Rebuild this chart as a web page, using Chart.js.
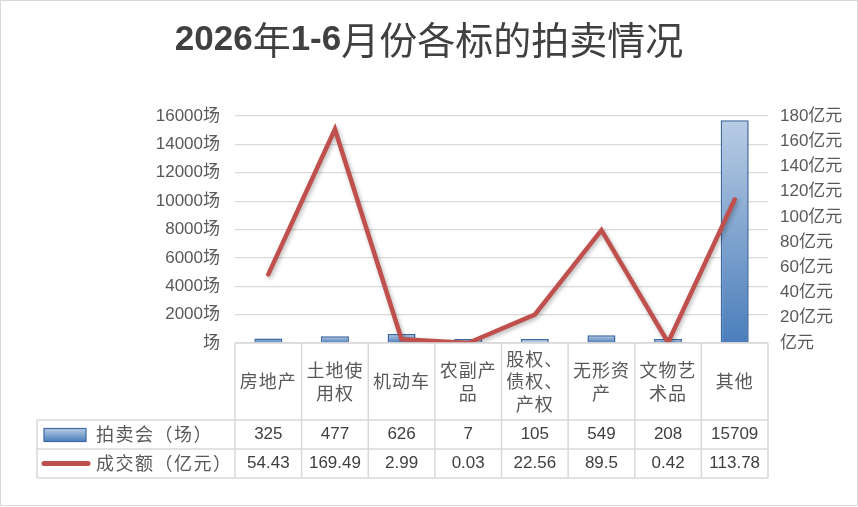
<!DOCTYPE html>
<html>
<head>
<meta charset="utf-8">
<script src="https://cdn.jsdelivr.net/npm/chart.js@4.4.1/dist/chart.umd.min.js"></script>
<style>
html,body{margin:0;padding:0;background:#fff}
#wrap{width:858px;height:507px;position:relative}
</style>
</head>
<body>
<div id="wrap"><canvas id="c" width="858" height="507"></canvas></div>
<script>
// data
var categories = ['房地产', '土地使用权', '机动车', '农副产品', '股权、债权、产权', '无形资产', '文物艺术品', '其他'];
var auctionCounts = [325, 477, 626, 7, 105, 549, 208, 15709];
var dealAmounts = [54.43, 169.49, 2.99, 0.03, 22.56, 89.5, 0.42, 113.78];
var countLabel = '拍卖会（场）';
var amountLabel = '成交额（亿元）';
var chartTitle = '2026年1-6月份各标的拍卖情况';
var countAxis = {max: 16000, step: 2000, unit: '场'};
var amountAxis = {max: 180, step: 20, unit: '亿元'};

var FONT = "'Liberation Sans','Noto Sans CJK SC',sans-serif";
var CJK = "'Noto Sans CJK SC','Liberation Sans',sans-serif";

function barGradient(ctx, yTop, yBottom) {
    var g = ctx.createLinearGradient(0, yTop, 0, yBottom);
    g.addColorStop(0, '#b9cce4');
    g.addColorStop(1, '#4a7ebb');
    return g;
}

// three chars per line, like the wrapped labels in the table
function wrap(s) {
    var out = [];
    for (var i = 0; i < s.length; i += 3) out.push(s.slice(i, i + 3));
    return out;
}

// title: latin bits bold, chinese regular
function drawTitle(ctx, text, cx, cy) {
    var runs = text.match(/[\x00-\x7f]+|[^\x00-\x7f]+/g);
    var fonts = runs.map(function (r) {
        return /^[\x00-\x7f]/.test(r) ? 'bold 35px ' + FONT : '38px ' + CJK;
    });
    var total = 0;
    runs.forEach(function (r, i) { ctx.font = fonts[i]; total += ctx.measureText(r).width; });
    var x = cx - total / 2;
    ctx.fillStyle = '#404040';
    ctx.textAlign = 'left';
    ctx.textBaseline = 'middle';
    runs.forEach(function (r, i) {
        ctx.font = fonts[i];
        ctx.fillText(r, x, cy);
        x += ctx.measureText(r).width;
    });
}

var lineShadow = {
    id: 'lineShadow',
    beforeDatasetDraw: function (chart, args) {
        var ctx = chart.ctx;
        ctx.save();
        if (args.meta.type === 'line') {
            ctx.shadowColor = 'rgba(0,0,0,0.28)';
            ctx.shadowBlur = 4;
            ctx.shadowOffsetX = 1.5;
            ctx.shadowOffsetY = 2;
        } else {
            ctx.shadowColor = 'rgba(0,0,0,0.15)';
            ctx.shadowBlur = 3;
            ctx.shadowOffsetX = 1;
            ctx.shadowOffsetY = 1;
        }
    },
    afterDatasetDraw: function (chart) {
        chart.ctx.restore();
    }
};

// data table under the axis
var dataTable = {
    id: 'dataTable',
    beforeDraw: function (chart) {
        var ctx = chart.ctx;
        ctx.save();
        ctx.fillStyle = '#fff';
        ctx.fillRect(0, 0, chart.width, chart.height);
        drawTitle(ctx, chartTitle, 429, 40);
        ctx.restore();
    },
    afterDraw: function (chart) {
        var ctx = chart.ctx, x = chart.scales.x, area = chart.chartArea;
        var half = (x.getPixelForValue(1) - x.getPixelForValue(0)) / 2;
        var top = area.bottom, r1 = top + 77, r2 = r1 + 29, r3 = r2 + 29;
        var tableLeft = 37;
        ctx.save();
        ctx.strokeStyle = '#d9d9d9';
        ctx.lineWidth = 1.5;
        ctx.beginPath();
        ctx.moveTo(area.left, top); ctx.lineTo(area.right, top);
        [r1, r2, r3].forEach(function (y) { ctx.moveTo(tableLeft, y); ctx.lineTo(area.right, y); });
        for (var i = 0; i <= categories.length; i++) {
            var xb = i < categories.length ? x.getPixelForValue(i) - half : area.right;
            ctx.moveTo(xb, top); ctx.lineTo(xb, r3);
        }
        ctx.moveTo(tableLeft, r1); ctx.lineTo(tableLeft, r3);
        ctx.stroke();

        ctx.textAlign = 'center';
        ctx.textBaseline = 'middle';
        var headMid = (top + r1) / 2;
        categories.forEach(function (c, i) {
            var cx = x.getPixelForValue(i);
            var lines = wrap(c);
            ctx.font = '18px ' + CJK;
            ctx.letterSpacing = '1px';
            ctx.fillStyle = '#595959';
            lines.forEach(function (l, k) {
                ctx.fillText(l, cx, headMid + (k - (lines.length - 1) / 2) * 22.5);
            });
            ctx.letterSpacing = '0px';
            ctx.font = '17px ' + FONT;
            ctx.fillStyle = '#404040';
            ctx.fillText(String(auctionCounts[i]), cx, (r1 + r2) / 2);
            ctx.fillText(String(dealAmounts[i]), cx, (r2 + r3) / 2);
        });

        // legend keys
        var m1 = (r1 + r2) / 2, m2 = (r2 + r3) / 2;
        ctx.fillStyle = barGradient(ctx, m1 - 6, m1 + 7);
        ctx.fillRect(44, m1 - 6, 42, 13);
        ctx.strokeStyle = '#3d6aa6';
        ctx.lineWidth = 1.2;
        ctx.strokeRect(44, m1 - 6, 42, 13);
        ctx.strokeStyle = '#c0504d';
        ctx.lineWidth = 5;
        ctx.lineCap = 'round';
        ctx.beginPath(); ctx.moveTo(44, m2); ctx.lineTo(88, m2); ctx.stroke();
        ctx.textAlign = 'left';
        ctx.font = '18px ' + CJK;
        ctx.letterSpacing = '1.5px';
        ctx.fillStyle = '#595959';
        ctx.fillText(countLabel, 96, m1);
        ctx.fillText(amountLabel, 96, m2);
        ctx.letterSpacing = '0px';

        // outer frame
        ctx.strokeStyle = '#d9d9d9';
        ctx.lineWidth = 1;
        ctx.strokeRect(0.5, 0.5, chart.width - 1, chart.height - 2);
        ctx.restore();
    }
};

var ctx = document.getElementById('c').getContext('2d');
var myChart = new Chart(ctx, {
    data: {
        labels: categories,
        datasets: [{
            type: 'line',
            label: amountLabel,
            data: dealAmounts,
            yAxisID: 'y1',
            borderColor: '#c0504d',
            borderWidth: 4.5,
            borderCapStyle: 'round',
            pointRadius: 0,
            tension: 0,
            order: 0
        }, {
            type: 'bar',
            label: countLabel,
            data: auctionCounts,
            yAxisID: 'y',
            backgroundColor: function (c) {
                var ch = c.chart;
                if (!ch.chartArea || c.parsed === undefined) return '#6f95c8';
                var yTop = ch.scales.y.getPixelForValue(c.parsed.y);
                return barGradient(ch.ctx, yTop, ch.chartArea.bottom);
            },
            borderColor: '#3d6aa6',
            borderWidth: 1.5,
            barPercentage: 0.42,
            categoryPercentage: 1,
            minBarLength: 4,
            order: 1
        }]
    },
    options: {
        responsive: false,
        animation: false,
        devicePixelRatio: 1,
        layout: {padding: {top: 116, bottom: 164, left: 0, right: 0}},
        plugins: {
            legend: {display: false},
            tooltip: {enabled: false},
            title: {display: false}
        },
        scales: {
            x: {display: false},
            y: {
                position: 'left',
                min: 0,
                max: countAxis.max,
                ticks: {
                    stepSize: countAxis.step,
                    padding: 15,
                    color: '#595959',
                    font: {size: 17, family: FONT},
                    callback: function (v) { return (v === 0 ? '' : v) + countAxis.unit; }
                },
                grid: {color: '#d9d9d9', lineWidth: 1.2, drawTicks: false},
                border: {display: false},
                afterFit: function (s) { s.width = 235; }
            },
            y1: {
                position: 'right',
                min: 0,
                max: amountAxis.max,
                ticks: {
                    stepSize: amountAxis.step,
                    padding: 12,
                    color: '#595959',
                    font: {size: 17, family: FONT},
                    callback: function (v) { return (v === 0 ? '' : v) + amountAxis.unit; }
                },
                grid: {display: false, drawTicks: false},
                border: {display: false},
                afterFit: function (s) { s.width = 90; }
            }
        }
    },
    plugins: [dataTable, lineShadow]
});
</script>
</body>
</html>
